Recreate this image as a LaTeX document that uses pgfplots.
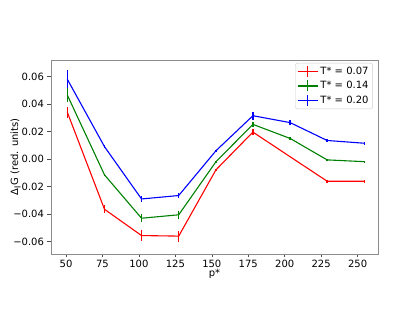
\documentclass[border=0pt]{standalone}
\usepackage{pgfplots}
\pgfplotsset{compat=1.18}
\usepackage{fontspec}
\setmainfont{DejaVu Sans}
\definecolor{mplgreen}{RGB}{0,128,0}
\begin{document}
\begin{tikzpicture}[x=1pt,y=1pt]
\path[use as bounding box] (0,0) rectangle (415,312);
\begin{axis}[
  at={(51pt,58pt)}, anchor=south west,
  scale only axis, width=327pt, height=194pt,
  xmin=39.7, xmax=264, ymin=-0.069, ymax=0.072,
  xtick={50,75,100,125,150,175,200,225,250},
  xticklabels={50,75,100,125,150,175,200,225,250},
  ytick={-0.06,-0.04,-0.02,0,0.02,0.04,0.06},
  yticklabels={−0.06,−0.04,−0.02,0.00,0.02,0.04,0.06},
  scaled y ticks=false,
  tick align=outside, xtick pos=bottom, ytick pos=left,
  major tick length=3.5pt,
  tick style={black!70, line width=0.6pt},
  axis line style={black!45, line width=0.7pt},
  ticklabel style={font=\fontsize{10}{11}\selectfont},
  xticklabel style={yshift=1pt},
  label style={font=\fontsize{10}{11}\selectfont},
  xlabel={p*}, ylabel={Δ G (red. units)},
  xlabel style={yshift=5pt},
  ylabel style={at={(rel axis cs:-0.11,0.5)}, anchor=center},
  legend style={font=\fontsize{10}{11}\selectfont, draw=black!20, rounded corners=1.5pt, row sep=1.5pt, at={(0.984,0.985)}, anchor=north east, inner sep=2pt},
  legend cell align=left,
  every axis plot/.append style={line width=1.1pt},
  error bars/error bar style={line width=1.3pt},
  error bars/error mark options={rotate=90, mark size=0pt},
]
\addlegendimage{legend image code/.code={
    \draw[red, line width=1.2pt] (0pt,0pt) -- (20pt,0pt);
    \draw[red, line width=1.2pt] (10pt,-5.5pt) -- (10pt,5.5pt);}}
\addlegendentry{T* = 0.07}
\addlegendimage{legend image code/.code={
    \draw[mplgreen, line width=1.2pt] (0pt,0pt) -- (20pt,0pt);
    \draw[mplgreen, line width=1.2pt] (10pt,-5.5pt) -- (10pt,5.5pt);}}
\addlegendentry{T* = 0.14}
\addlegendimage{legend image code/.code={
    \draw[blue, line width=1.2pt] (0pt,0pt) -- (20pt,0pt);
    \draw[blue, line width=1.2pt] (10pt,-5.5pt) -- (10pt,5.5pt);}}
\addlegendentry{T* = 0.20}
\addplot+[red, mark=none, forget plot, error bars/.cd, y dir=both, y explicit]
  table[x=x, y=y, y error=e] {
  x y e
  50.9 0.034 0.004
  76.4 -0.0365 0.003
  101.8 -0.0556 0.004
  127.3 -0.056 0.004
  152.8 -0.0079 0.0005
  178.2 0.0196 0.002
  203.7 0.0017 0.0
  229.1 -0.0161 0.001
  254.6 -0.0161 0.001
  };
\addplot+[mplgreen, mark=none, forget plot, error bars/.cd, y dir=both, y explicit]
  table[x=x, y=y, y error=e] {
  x y e
  50.9 0.0465 0.005
  76.4 -0.0115 0.001
  101.8 -0.043 0.003
  127.3 -0.0405 0.003
  152.8 -0.002 0.0005
  178.2 0.0252 0.002
  203.7 0.0150 0.001
  229.1 -0.0006 0.0005
  254.6 -0.0019 0.0005
  };
\addplot+[blue, mark=none, forget plot, error bars/.cd, y dir=both, y explicit]
  table[x=x, y=y, y error=e] {
  x y e
  50.9 0.058 0.0065
  76.4 0.009 0.001
  101.8 -0.029 0.002
  127.3 -0.0265 0.002
  152.8 0.006 0.0005
  178.2 0.0315 0.003
  203.7 0.0265 0.002
  229.1 0.0135 0.001
  254.6 0.0115 0.001
  };
\end{axis}
\end{tikzpicture}
\end{document}
